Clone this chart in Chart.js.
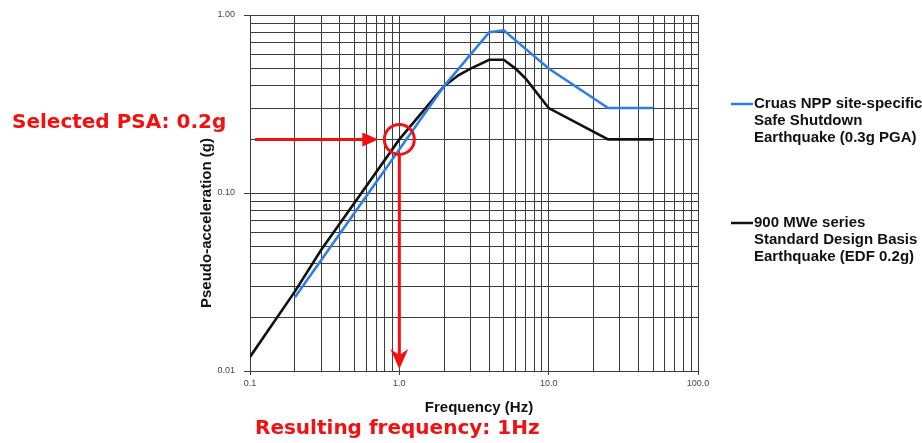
<!DOCTYPE html>
<html>
<head>
<meta charset="utf-8">
<script src="https://cdn.jsdelivr.net/npm/chart.js@4/dist/chart.umd.min.js"></script>
<style>
  html, body { margin: 0; padding: 0; background: #ffffff; }
  #wrap { width: 922px; height: 443px; position: relative; }
</style>
</head>
<body>
<div id="wrap"><canvas id="c" width="922" height="443"></canvas></div>
<script>
// ---- data ----
const blueLabel = ["Cruas NPP site-specific", "Safe Shutdown", "Earthquake (0.3g PGA)"];
const blueFreq  = [0.2, 2, 4, 5, 10, 25, 50];
const blueAcc   = [0.026, 0.4, 0.8, 0.82, 0.5, 0.3, 0.3];

const blackLabel = ["900 MWe series", "Standard Design Basis", "Earthquake (EDF 0.2g)"];
const blackFreq  = [0.1, 0.2, 0.3, 0.5, 1, 1.5, 2, 2.5, 3, 4, 5, 6, 7, 10, 25, 50];
const blackAcc   = [0.012, 0.028, 0.048, 0.088, 0.2, 0.3, 0.4, 0.46, 0.5, 0.56, 0.56, 0.5, 0.44, 0.3, 0.2, 0.2];

const xDecades = [0.1, 1, 10, 100];
const xDecadeLabels = ["0.1", "1.0", "10.0", "100.0"];
const yDecades = [0.01, 0.1, 1];
const yDecadeLabels = ["0.01", "0.10", "1.00"];
const minorSteps = [1, 2, 3, 4, 5, 6, 7, 8, 9];

const xTitle = "Frequency (Hz)";
const yTitle = "Pseudo-acceleration (g)";
const selectedPSA = 0.2;
const resultingFreq = 1;
const psaText = "Selected PSA: 0.2g";
const freqText = "Resulting frequency: 1Hz";

// ---- helpers ----
function logTicks(decades) {
  const out = [];
  for (let i = 0; i < decades.length - 1; i++) {
    for (const m of minorSteps) out.push(+(decades[i] * m).toPrecision(6));
  }
  out.push(decades[decades.length - 1]);
  return out;
}
function decadeIndex(decades, v) {
  return decades.findIndex(d => Math.abs(d - v) / d < 1e-6);
}
const pts = (xs, ys) => xs.map((x, i) => ({ x: x, y: ys[i] }));

const annot = {
  id: 'annot',
  afterDatasetsDraw(chart) {
    const ctx = chart.ctx;
    const xs = chart.scales.x, ys = chart.scales.y, ca = chart.chartArea;
    const cx = xs.getPixelForValue(resultingFreq);
    const cy = ys.getPixelForValue(selectedPSA);
    const r = 15;
    const red = '#f21010';
    ctx.save();
    ctx.strokeStyle = red; ctx.fillStyle = red;
    ctx.lineWidth = 3;
    ctx.beginPath(); ctx.arc(cx, cy, r, 0, Math.PI * 2); ctx.stroke();
    const hx0 = ca.left + 5, hTip = cx - r - 6;
    ctx.beginPath(); ctx.moveTo(hx0, cy); ctx.lineTo(hTip - 12, cy); ctx.stroke();
    ctx.beginPath(); ctx.moveTo(hTip, cy); ctx.lineTo(hTip - 16, cy - 7); ctx.lineTo(hTip - 16, cy + 7); ctx.closePath(); ctx.fill();
    const vTip = ca.bottom - 2;
    ctx.beginPath(); ctx.moveTo(cx, cy + r); ctx.lineTo(cx, vTip - 14); ctx.stroke();
    ctx.beginPath(); ctx.moveTo(cx, vTip); ctx.lineTo(cx - 9, vTip - 20); ctx.lineTo(cx, vTip - 14); ctx.lineTo(cx + 9, vTip - 20); ctx.closePath(); ctx.fill();
    ctx.restore();
  },
  afterDraw(chart) {
    const ctx = chart.ctx;
    ctx.save();
    ctx.fillStyle = '#f21010';
    ctx.font = 'bold 20px "DejaVu Sans", sans-serif';
    ctx.textBaseline = 'middle';
    ctx.textAlign = 'left';
    ctx.fillText(psaText, 12, 123, 228);
    ctx.fillText(freqText, 255, 429, 288);
    ctx.fillStyle = '#111';
    ctx.font = 'bold 15px "Liberation Sans", Arial, sans-serif';
    ctx.textAlign = 'center';
    ctx.fillText(xTitle, 479, 408);
    ctx.save();
    ctx.translate(207, 223);
    ctx.rotate(-Math.PI / 2);
    ctx.fillText(yTitle, 0, 0);
    ctx.restore();
    const items = [
      { color: '#2f7fe3', lines: blueLabel, y: 104 },
      { color: '#111111', lines: blackLabel, y: 223 }
    ];
    ctx.textAlign = 'left';
    ctx.font = 'bold 15px "Liberation Sans", Arial, sans-serif';
    for (const it of items) {
      ctx.strokeStyle = it.color; ctx.lineWidth = 2.5;
      ctx.beginPath(); ctx.moveTo(731, it.y); ctx.lineTo(753, it.y); ctx.stroke();
      ctx.fillStyle = '#111';
      it.lines.forEach((t, i) => ctx.fillText(t, 754, it.y + i * 16.7));
    }
    ctx.restore();
  }
};

const gridColor = '#3c3c3c';

new Chart(document.getElementById('c'), {
  type: 'line',
  data: {
    datasets: [
      { label: blueLabel.join(' '), data: pts(blueFreq, blueAcc), borderColor: '#2f7fe3', borderWidth: 2.6, pointRadius: 0, tension: 0, fill: false },
      { label: blackLabel.join(' '), data: pts(blackFreq, blackAcc), borderColor: '#111111', borderWidth: 2.6, pointRadius: 0, tension: 0, fill: false }
    ]
  },
  options: {
    responsive: false,
    animation: false,
    events: [],
    layout: { padding: { left: 200, right: 224, top: 15, bottom: 40 } },
    plugins: { legend: { display: false }, tooltip: { enabled: false } },
    scales: {
      x: {
        type: 'logarithmic',
        min: xDecades[0], max: xDecades[xDecades.length - 1],
        afterBuildTicks: s => { s.ticks = logTicks(xDecades).map(v => ({ value: v })); },
        afterFit: s => { s.height = 32; },
        border: { display: true, color: gridColor, width: 1 },
        grid: {
          color: gridColor, lineWidth: 1, drawTicks: true, tickLength: 4,
          tickColor: c => decadeIndex(xDecades, c.tick.value) >= 0 ? gridColor : 'rgba(0,0,0,0)'
        },
        ticks: {
          autoSkip: false, maxRotation: 0, padding: 3, color: '#444',
          font: { family: '"Liberation Sans", Arial, sans-serif', size: 9 },
          callback: v => { const i = decadeIndex(xDecades, v); return i >= 0 ? xDecadeLabels[i] : ''; }
        }
      },
      y: {
        type: 'logarithmic',
        min: yDecades[0], max: yDecades[yDecades.length - 1],
        afterBuildTicks: s => { s.ticks = logTicks(yDecades).map(v => ({ value: v })); },
        afterFit: s => { s.width = 50; },
        border: { display: true, color: gridColor, width: 1 },
        grid: {
          color: gridColor, lineWidth: 1, drawTicks: true, tickLength: 6,
          tickColor: c => decadeIndex(yDecades, c.tick.value) >= 0 ? gridColor : 'rgba(0,0,0,0)'
        },
        ticks: {
          autoSkip: false, padding: 9, color: '#444',
          font: { family: '"Liberation Sans", Arial, sans-serif', size: 9 },
          callback: v => { const i = decadeIndex(yDecades, v); return i >= 0 ? yDecadeLabels[i] : ''; }
        }
      }
    }
  },
  plugins: [annot]
});
</script>
</body>
</html>
